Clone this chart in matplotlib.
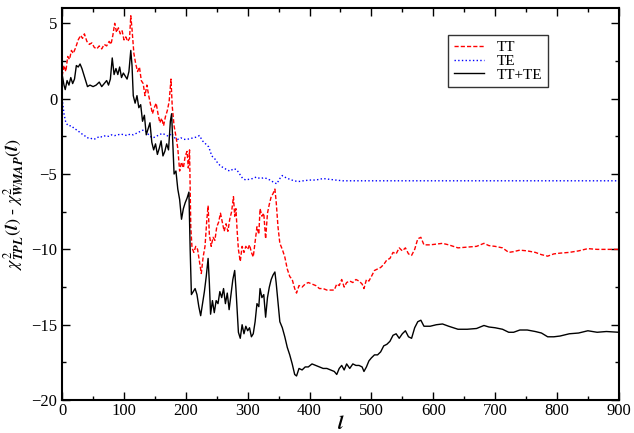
import numpy as np
import matplotlib
matplotlib.use('Agg')
import matplotlib.pyplot as plt
from matplotlib.ticker import MultipleLocator

plt.rcParams['font.family'] = 'Liberation Serif'
plt.rcParams['mathtext.fontset'] = 'stix'

# TT (red dashed)
l_tt = [0, 3, 6, 9, 12, 15, 18, 22, 26, 30, 33, 36, 40, 44, 48, 52, 56, 60, 64, 68,
        72, 76, 79, 82, 85, 88, 91, 94, 97, 100, 103, 106, 109, 111, 113, 116, 119, 122, 125, 128,
        131, 134, 137, 140, 143, 146, 149, 152, 155, 158, 161, 164, 167, 170, 173, 176, 178, 181, 184, 187,
        190, 193, 196, 199, 202, 204, 206, 208, 210, 213, 216, 219, 222, 225, 228, 231, 234, 236, 238, 241,
        244, 247, 250, 253, 256, 259, 262, 265, 268, 271, 274, 277, 279, 281, 283, 285, 288, 291, 294, 297,
        300, 303, 306, 309, 312, 315, 318, 320, 323, 326, 329, 332, 335, 338, 341, 344, 346, 349, 352, 356,
        360, 364, 368, 372, 376, 379, 383, 388, 393, 398, 404, 410, 416, 422, 428, 434, 440, 444, 448, 452,
        456, 460, 465, 470, 475, 480, 485, 488, 492, 496, 500, 505, 510, 515, 520, 525, 530, 535, 540, 545,
        550, 555, 560, 565, 570, 575, 580, 585, 595, 605, 615, 625, 640, 655, 670, 682, 690, 700, 712, 722,
        730, 740, 752, 765, 775, 785, 795, 805, 820, 835, 850, 865, 880, 900]
tt = [1.5, 2.2, 1.8, 2.8, 2.6, 3.2, 3.0, 3.4, 3.9, 4.2, 4.0, 4.3, 3.8, 3.6, 3.7, 3.4, 3.3, 3.5, 3.3, 3.6,
      3.5, 3.8, 3.6, 4.2, 5.0, 4.4, 4.7, 4.3, 4.5, 3.9, 4.1, 3.8, 4.0, 5.5, 4.6, 3.0, 2.3, 1.8, 2.1, 1.2,
      1.0, 0.2, 0.9, 0.2, -0.4, -1.0, -0.6, -0.3, -1.0, -1.6, -1.3, -1.8, -1.2, -0.8, -0.2, 1.3, -0.5, -1.8, -2.5, -3.3,
      -4.8, -4.2, -4.6, -3.8, -3.5, -4.6, -3.4, -8.5, -9.9, -10.2, -9.8, -10.0, -10.8, -11.6, -10.5, -9.8, -8.0, -7.1, -9.0, -9.8,
      -9.2, -9.4, -8.5, -8.2, -7.6, -8.2, -8.8, -8.3, -8.8, -8.0, -7.5, -6.5, -7.8, -7.3, -8.8, -10.0, -10.8, -9.8, -10.2, -9.8,
      -10.0, -9.7, -10.2, -10.5, -9.5, -8.5, -9.0, -7.3, -7.8, -7.6, -9.3, -7.6, -7.0, -6.5, -6.3, -6.0, -6.8, -8.5, -9.6, -10.0,
      -10.5, -11.3, -11.8, -12.0, -12.6, -12.9, -12.4, -12.5, -12.3, -12.2, -12.3, -12.4, -12.6, -12.6, -12.7, -12.7, -12.7, -12.3, -12.4, -12.0,
      -12.5, -12.2, -12.1, -12.2, -12.0, -12.1, -12.3, -12.6, -12.0, -12.1, -11.8, -11.4, -11.3, -11.2, -11.0, -10.7, -10.6, -10.2, -10.3, -9.9,
      -10.1, -9.9, -10.3, -10.4, -10.0, -9.3, -9.2, -9.7, -9.7, -9.65, -9.6, -9.7, -9.9, -9.85, -9.8, -9.6, -9.75, -9.8, -9.9, -10.2,
      -10.15, -10.05, -10.1, -10.2, -10.35, -10.45, -10.3, -10.25, -10.2, -10.1, -9.95, -10.0, -10.0, -10.0]

# TT+TE (black solid)
l_all = [0, 3, 5, 8, 11, 14, 17, 20, 23, 26, 29, 32, 35, 38, 41, 45, 50, 55, 60, 64,
         68, 72, 75, 78, 81, 84, 87, 90, 93, 96, 99, 102, 105, 108, 111, 113, 115, 118, 121, 124,
         127, 130, 133, 136, 139, 142, 145, 148, 151, 154, 157, 160, 163, 166, 169, 172, 175, 177, 179, 181,
         184, 187, 190, 193, 196, 199, 202, 205, 207, 209, 212, 215, 218, 221, 224, 227, 230, 233, 236, 238,
         240, 243, 246, 249, 252, 255, 258, 261, 264, 267, 270, 273, 276, 279, 281, 283, 285, 288, 291, 294,
         297, 300, 303, 306, 309, 312, 315, 318, 320, 323, 326, 329, 332, 335, 338, 341, 344, 346, 349, 352,
         356, 360, 364, 368, 372, 376, 379, 383, 388, 393, 398, 404, 410, 416, 422, 428, 434, 440, 444, 448,
         452, 456, 460, 465, 470, 475, 480, 485, 488, 492, 496, 500, 505, 510, 515, 520, 525, 530, 535, 540,
         545, 550, 555, 560, 565, 570, 575, 580, 585, 595, 605, 615, 625, 640, 655, 670, 682, 690, 700, 712,
         722, 730, 740, 752, 765, 775, 785, 795, 805, 820, 835, 850, 865, 880, 900]
tt_te = [1.6, 0.9, 0.6, 1.2, 0.9, 1.4, 1.0, 1.3, 2.2, 2.1, 2.3, 2.0, 1.6, 1.2, 0.8, 0.9, 0.8, 0.9, 1.1, 0.8,
         1.0, 1.2, 0.9, 1.3, 2.7, 1.6, 2.0, 1.6, 2.1, 1.4, 1.7, 1.5, 1.3, 1.8, 3.2, 2.2, 0.2, -0.3, 0.2, -0.6,
         -0.4, -1.5, -1.1, -2.4, -2.0, -1.6, -2.9, -3.4, -3.0, -3.7, -3.3, -2.8, -3.8, -3.5, -3.0, -3.4, -1.5, -1.0, -3.0, -5.0,
         -4.8, -6.0, -6.7, -8.0, -7.3, -6.9, -6.6, -6.2, -10.0, -13.0, -12.8, -12.6, -13.0, -13.8, -14.4, -13.6, -12.8, -11.8, -10.6, -12.2,
         -14.3, -13.4, -14.2, -13.4, -13.6, -12.8, -13.2, -12.6, -13.6, -12.9, -14.0, -13.0, -12.0, -11.4, -12.6, -14.0, -15.5, -15.9, -15.0, -15.6,
         -15.1, -15.4, -15.2, -15.8, -15.6, -14.8, -13.6, -13.8, -12.6, -13.2, -13.0, -14.5, -13.2, -12.5, -12.0, -11.7, -11.5, -12.2, -13.5, -14.8,
         -15.2, -15.8, -16.5, -17.0, -17.6, -18.3, -18.4, -17.9, -18.0, -17.8, -17.8, -17.6, -17.7, -17.8, -17.9, -17.9, -18.0, -18.1, -18.3, -17.9,
         -17.7, -18.0, -17.6, -17.9, -17.6, -17.7, -17.7, -17.8, -18.1, -17.8, -17.4, -17.2, -17.0, -17.0, -16.8, -16.4, -16.3, -16.1, -15.7, -15.6,
         -15.9, -15.6, -15.4, -15.8, -15.9, -15.2, -14.8, -14.7, -15.1, -15.1, -15.0, -14.95, -15.1, -15.3, -15.3, -15.25, -15.05, -15.15, -15.2, -15.3,
         -15.5, -15.5, -15.35, -15.35, -15.45, -15.55, -15.8, -15.8, -15.75, -15.6, -15.55, -15.4, -15.5, -15.45, -15.5]

# TE (blue dotted)
l_te = [0, 3, 6, 10, 15, 20, 25, 30, 35, 40, 45, 50, 55, 60, 65, 70, 75, 80, 85, 90,
        95, 100, 105, 110, 115, 120, 125, 130, 134, 138, 142, 147, 152, 157, 162, 167, 172, 177, 182, 187,
        192, 197, 202, 207, 212, 217, 222, 227, 232, 237, 242, 247, 252, 257, 262, 267, 272, 277, 282, 287,
        292, 297, 302, 308, 314, 320, 326, 331, 336, 342, 347, 352, 356, 362, 368, 375, 382, 390, 400, 410,
        422, 432, 442, 454, 900]
te = [0.0, -1.0, -1.6, -1.8, -1.8, -2.0, -2.1, -2.3, -2.4, -2.6, -2.6, -2.7, -2.65, -2.5, -2.55, -2.45, -2.5, -2.4, -2.45, -2.4,
      -2.35, -2.4, -2.45, -2.35, -2.4, -2.3, -2.2, -2.1, -2.1, -2.3, -2.5, -2.6, -2.5, -2.4, -2.3, -2.4, -2.5, -2.3, -2.6, -2.7,
      -2.6, -2.7, -2.7, -2.65, -2.6, -2.55, -2.45, -2.8, -3.0, -3.2, -3.8, -4.0, -4.3, -4.5, -4.6, -4.75, -4.8, -4.65, -4.7, -5.0,
      -5.3, -5.4, -5.35, -5.3, -5.2, -5.3, -5.25, -5.3, -5.4, -5.55, -5.65, -5.3, -5.1, -5.25, -5.35, -5.45, -5.5, -5.45, -5.4, -5.4,
      -5.3, -5.35, -5.4, -5.45, -5.45]

fig = plt.figure(figsize=(6.34, 4.33), dpi=100)
ax = fig.add_axes([0.098, 0.076, 0.878, 0.905])

ax.plot(l_tt, tt, color='red', linestyle='--', linewidth=1.0, dashes=(3, 1.5), label='TT')
ax.plot(l_te, te, color='blue', linestyle=':', linewidth=1.0, label='TE')
ax.plot(l_all, tt_te, color='black', linestyle='-', linewidth=1.0, label='TT+TE')

ax.set_xlim(0, 900)
ax.set_ylim(-20, 6)
ax.xaxis.set_major_locator(MultipleLocator(100))
ax.xaxis.set_minor_locator(MultipleLocator(50))
ax.yaxis.set_major_locator(MultipleLocator(5))
ax.yaxis.set_minor_locator(MultipleLocator(2.5))
ax.tick_params(which='both', direction='in', top=True, right=True, labelsize=12)
ax.tick_params(which='major', length=6, width=1)
ax.tick_params(which='minor', length=3, width=1)
ax.tick_params(axis='x', pad=2)
for s in ax.spines.values():
    s.set_linewidth(1.5)

ax.set_xlabel(r'$\mathbfit{l}$', fontsize=14, labelpad=-3)
ax.set_ylabel(r'$\chi^2_{\mathbfit{TPL}}(\mathbfit{l})$ - $\chi^2_{\mathbfit{WMAP}}(\mathbfit{l})$',
              fontsize=13, labelpad=4)

leg = ax.legend(loc='upper right', bbox_to_anchor=(0.872, 0.931), fontsize=11, frameon=True,
                fancybox=False, edgecolor='black', handlelength=2.0, borderpad=0.35,
                labelspacing=0.0, borderaxespad=0, handletextpad=0.8)
leg.get_frame().set_linewidth(1.0)

fig.savefig('out.png', dpi=100)
